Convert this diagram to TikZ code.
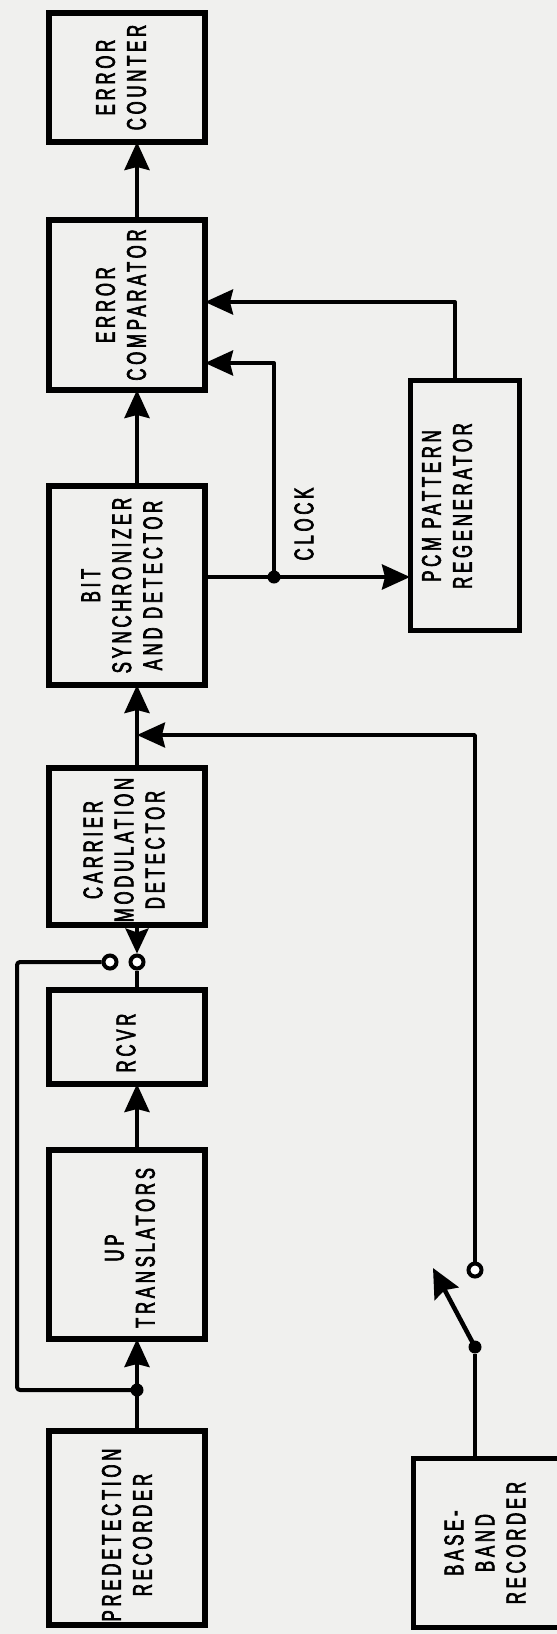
\documentclass[tikz,border=0pt]{standalone}
\usepackage{fontspec}
\newfontfamily\lblfont[FakeStretch=0.62,LetterSpace=14,FakeBold=2.5]{Liberation Sans}
\usetikzlibrary{arrows.meta,calc}
\definecolor{paper}{RGB}{240,240,238}
\begin{document}
\begin{tikzpicture}[x=1pt,y=-1pt,
  blk/.style={draw, line width=5.5pt, inner sep=0pt, outer sep=0pt},
  lbl/.style={rotate=90, align=center, font=\lblfont\fontsize{27}{31}\selectfont, inner sep=0pt},
  wire/.style={line width=4pt, line join=round},
  bwire/.style={line width=3.5pt, line join=round},
  arr/.style={-{Stealth[length=28pt,width=25pt,inset=3pt]}},
  jdot/.style={circle, fill=black, minimum size=13pt, inner sep=0pt},
  contact/.style={circle, draw, line width=4pt, fill=white, minimum size=13pt, inner sep=0pt}]
\useasboundingbox (0,0) rectangle (557,1634);
\begin{scope}
\clip (0,0) rectangle (557,1634);
\fill[paper] (0,0) rectangle (557,1634);
% main column boxes
\node[blk, minimum width=156pt, minimum height=129pt] (ec) at (127,77.5) {};
\node[blk, minimum width=156pt, minimum height=170pt] (cmp) at (127,305) {};
\node[blk, minimum width=156pt, minimum height=199pt] (bit) at (127,585.5) {};
\node[blk, minimum width=156pt, minimum height=157pt] (cmd) at (127,846.5) {};
\node[blk, minimum width=156pt, minimum height=94pt] (rcvr) at (127,1037) {};
\node[blk, minimum width=156pt, minimum height=189pt] (up) at (127,1244.5) {};
\node[blk, minimum width=156pt, minimum height=194pt] (pre) at (127,1528) {};
% right column boxes
\node[blk, line width=5pt, minimum width=109pt, minimum height=250pt] (pcm) at (464.5,505) {};
\node[blk, line width=5pt, minimum width=162pt, minimum height=169pt] (bb) at (494,1542.5) {};
% labels
\node[lbl] (tec) at (121,77.5) {ERROR\\COUNTER};
\node[lbl] (tcmp) at (121,305) {ERROR\\COMPARATOR};
\node[lbl] (tbit) at (122,585.5) {BIT\\SYNCHRONIZER\\AND DETECTOR};
\node[lbl] (tcmd) at (124,850) {CARRIER\\MODULATION\\DETECTOR};
\node[lbl] (trcvr) at (126,1043) {RCVR};
\node[lbl] (tup) at (130,1248) {UP\\TRANSLATORS};
\node[lbl] (tpre) at (127,1535) {PREDETECTION\\RECORDER};
\node[lbl] (tpcm) at (447,506) {PCM PATTERN\\REGENERATOR};
\node[lbl] (tbb) at (485,1543) {BASE-\\BAND\\RECORDER};
\node[lbl] (clk) at (304,524) {CLOCK};
% helper coordinates
\coordinate (mx) at (137,0);
\coordinate (bx) at (475,0);
% junctions and contacts
\node[jdot] (j1) at (137,1390) {};
\node[contact] (c1) at (110,962) {};
\node[contact] (c2) at (137,962) {};
\node[jdot] (j2) at (475,1347) {};
\node[contact] (c3) at (475,1270) {};
\node[jdot] (j3) at (274,577) {};
\coordinate (l2) at (17,962);
\coordinate (tip) at (433,1268);
\coordinate (k1) at (475,735);
\coordinate (k2) at (274,363);
\coordinate (k3) at (455,302);
% main chain
\draw[wire,arr] (pre.north -| mx) -- (up.south -| mx);
\draw[wire,rounded corners=3pt] (j1.center) -| (l2) -- (c1);
\draw[wire,arr] (up.north -| mx) -- (rcvr.south -| mx);
\draw[wire] (rcvr.north -| mx) -- (c2);
\draw[wire,-{Stealth[length=25pt,width=23pt,inset=4pt]}] (cmd.south -| mx) -- (c2.north);
\draw[wire,arr] (cmd.north -| mx) -- (bit.south -| mx);
\draw[wire,arr] (bit.north -| mx) -- (cmp.south -| mx);
\draw[wire,arr] (cmp.north -| mx) -- (ec.south -| mx);
% baseband path
\draw[bwire] (bb.north -| bx) -- (j2);
\draw[line width=4.5pt, -{Stealth[length=29pt,width=27pt,inset=4pt]}] (j2.center) -- (tip);
\draw[bwire,arr] (c3.north) -- (k1) -- (k1 -| mx);
% clock paths
\draw[wire,arr] (bit.east |- j3) -- (pcm.west |- j3);
\draw[wire,arr] (j3.center) -- (k2) -- (cmp.east |- k2);
\draw[wire,arr] (pcm.north -| k3) -- (k3) -- (cmp.east |- k3);
\end{scope}
\end{tikzpicture}
\end{document}
